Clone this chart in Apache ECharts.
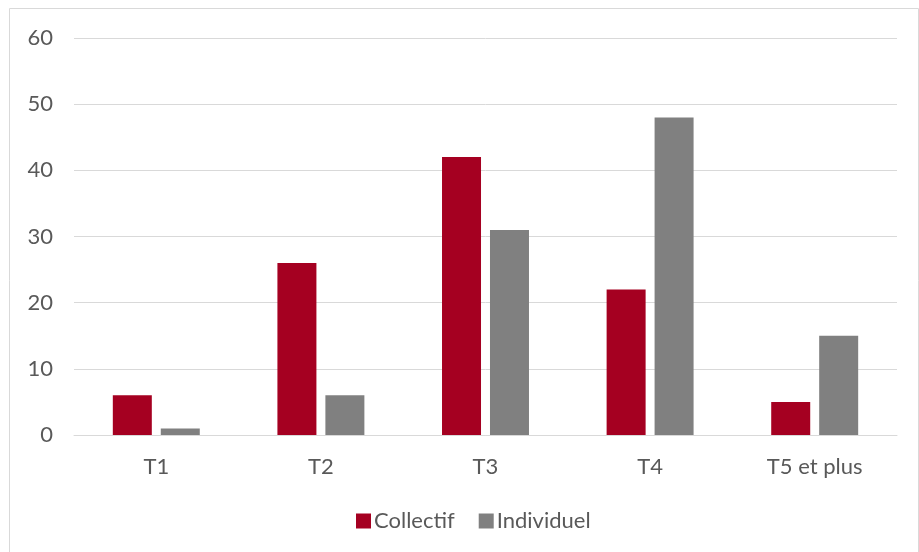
<!DOCTYPE html>
<html><head><meta charset="utf-8">
<script src="https://cdn.jsdelivr.net/npm/echarts@6/dist/echarts.min.js"></script>
<style>html,body{margin:0;padding:0;background:#fff}#c{width:919px;height:552px}</style>
</head><body><div id="c"></div>
<script>
const categories = ['T1', 'T2', 'T3', 'T4', 'T5 et plus'];
const collectif = [6, 26, 42, 22, 5];
const individuel = [1, 6, 31, 48, 15];
const yTicks = [0, 10, 20, 30, 40, 50, 60];

const chart = echarts.init(document.getElementById('c'), null, {renderer: 'canvas'});
const font = 'Lato, Open Sans, sans-serif';
chart.setOption({
  animation: false,
  textStyle: {fontFamily: font},
  graphic: [{type: 'rect', shape: {x: 9.5, y: 8.5, width: 909, height: 560}, style: {fill: 'none', stroke: '#d9d9d9', lineWidth: 1}, silent: true}],
  grid: {left: 74, right: 22, top: 38, bottom: 117, containLabel: false},
  legend: {
    data: ['Collectif', 'Individuel'], top: 505, left: 351, itemWidth: 15, itemHeight: 15, itemGap: 24,
    icon: 'rect',
    textStyle: {color: '#595959', fontSize: 22, fontFamily: font, padding: [0, 0, 0, -2]}
  },
  xAxis: {
    type: 'category', data: categories,
    axisLine: {lineStyle: {color: '#d9d9d9', width: 1}}, axisTick: {show: false},
    axisLabel: {color: '#595959', fontSize: 22, margin: 21}
  },
  yAxis: {
    type: 'value', min: yTicks[0], max: yTicks[yTicks.length - 1], interval: 10,
    axisLine: {show: false}, axisTick: {show: false},
    splitLine: {lineStyle: {color: '#d9d9d9', width: 1}},
    axisLabel: {color: '#595959', fontSize: 22, margin: 21}
  },
  series: [
    {name: 'Collectif', type: 'bar', data: collectif, barWidth: 39, barGap: '23%', itemStyle: {color: '#A50021'}},
    {name: 'Individuel', type: 'bar', data: individuel, barWidth: 39, itemStyle: {color: '#808080'}}
  ]
});
</script></body></html>
